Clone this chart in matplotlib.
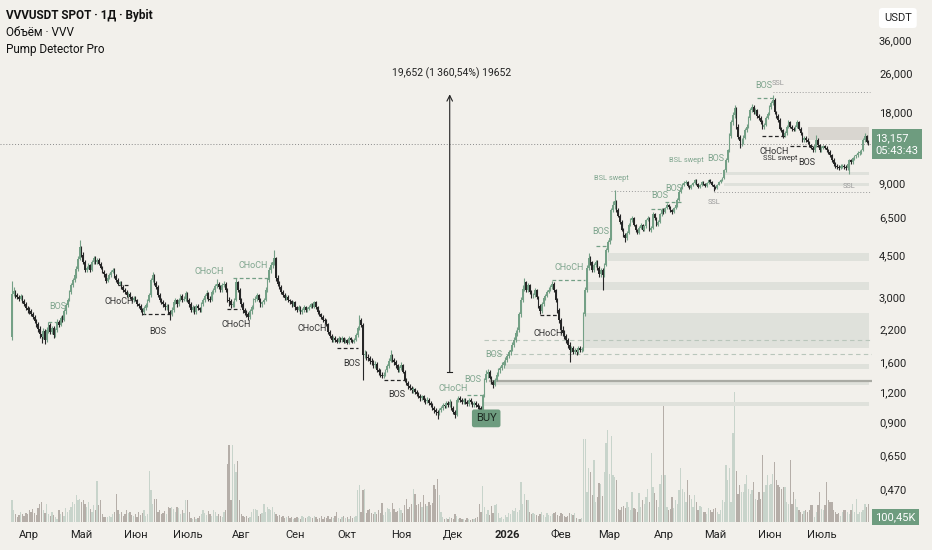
import matplotlib
matplotlib.use("Agg")
import matplotlib.pyplot as plt
import matplotlib.transforms as mtransforms
import numpy as np
import pandas as pd

plt.rcParams['font.family'] = ['Roboto', 'DejaVu Sans']

# daily candles, VVVUSDT, from 2025-03-22
start_date = "2025-03-22"
first_open = 2.05

closes = [
    3.10, 3.18, 3.05, 3.00, 2.95, 3.02, 2.90, 2.82, 2.70, 2.65,
    2.62, 2.55, 2.48, 2.38, 2.32, 2.20, 2.10, 2.04, 2.16, 1.98,
    2.18, 2.30, 2.15, 2.22, 2.08, 2.18, 2.36, 2.30, 2.45, 2.41,
    2.62, 2.78, 2.92, 3.16, 3.38, 3.54, 3.70, 3.95, 4.35, 4.85,
    4.50, 4.20, 3.90, 3.98, 4.08, 3.90, 4.20, 4.38, 4.20, 4.30,
    4.15, 3.98, 3.84, 3.74, 3.50, 3.62, 3.72, 3.84, 3.90, 3.68,
    3.54, 3.42, 3.46, 3.32, 3.22, 3.16, 3.06, 3.08, 3.00, 2.92,
    2.98, 2.92, 2.80, 2.75, 2.65, 2.60, 2.70, 2.78, 2.90, 3.06,
    3.54, 3.70, 3.44, 3.30, 3.06, 2.92, 2.85, 2.80, 2.72, 2.76,
    2.60, 2.55, 2.66, 2.85, 2.92, 2.80, 2.92, 3.04, 2.92, 2.96,
    3.12, 2.92, 2.80, 2.65, 2.72, 2.60, 2.76, 2.70, 2.65, 2.80,
    2.92, 3.02, 3.12, 2.96, 2.92, 3.14, 3.22, 3.34, 3.40, 3.30,
    3.22, 3.38, 3.42, 3.22, 2.92, 2.88, 2.78, 2.80, 2.92, 3.46,
    3.22, 2.92, 2.80, 2.65, 2.58, 2.55, 2.48, 2.62, 2.72, 2.92,
    2.96, 3.06, 2.92, 2.80, 2.85, 2.92, 3.22, 3.54, 3.90, 4.10,
    4.20, 4.38, 3.60, 3.42, 3.30, 3.16, 3.06, 2.98, 3.00, 2.92,
    2.88, 2.80, 2.85, 2.72, 2.65, 2.72, 2.60, 2.65, 2.72, 2.66,
    2.68, 2.74, 2.80, 2.74, 2.85, 2.72, 2.60, 2.55, 2.48, 2.41,
    2.38, 2.31, 2.14, 2.06, 1.98, 2.02, 1.98, 1.95, 2.02, 1.98,
    2.02, 1.95, 1.98, 1.93, 2.02, 1.98, 1.95, 1.98, 2.08, 2.22,
    2.41, 2.30, 1.72, 1.74, 1.68, 1.66, 1.62, 1.60, 1.56, 1.58,
    1.48, 1.46, 1.42, 1.40, 1.42, 1.48, 1.54, 1.62, 1.72, 1.63,
    1.60, 1.56, 1.48, 1.51, 1.56, 1.46, 1.35, 1.31, 1.27, 1.25,
    1.22, 1.23, 1.20, 1.18, 1.16, 1.13, 1.15, 1.11, 1.10, 1.11,
    1.08, 1.06, 1.03, 1.01, 0.99, 0.98, 1.01, 1.03, 1.06, 1.05,
    1.08, 1.06, 1.09, 1.03, 0.99, 0.96, 1.11, 1.13, 1.11, 1.09,
    1.11, 1.09, 1.07, 1.11, 1.09, 1.06, 1.08, 1.06, 1.04, 1.03,
    1.01, 1.16, 1.35, 1.43, 1.46, 1.38, 1.32, 1.29, 1.35, 1.42,
    1.48, 1.51, 1.56, 1.60, 1.63, 1.70, 1.76, 1.80, 1.89, 1.98,
    2.12, 2.18, 2.54, 2.92, 3.26, 3.46, 3.22, 3.38, 3.16, 3.06,
    3.06, 3.22, 3.00, 2.75, 2.62, 2.80, 2.98, 3.04, 3.16, 3.22,
    3.30, 3.42, 3.22, 2.92, 2.65, 2.41, 2.18, 2.12, 2.06, 1.98,
    1.89, 1.80, 1.84, 1.77, 1.80, 1.77, 1.84, 1.80, 1.82, 2.55,
    3.22, 3.98, 4.38, 4.20, 3.90, 4.10, 4.20, 3.98, 3.74, 3.90,
    3.70, 4.10, 4.73, 5.10, 5.30, 6.96, 7.30, 7.60, 6.96, 6.60,
    6.20, 5.74, 5.45, 5.30, 5.60, 6.03, 6.32, 6.42, 6.03, 5.74,
    5.60, 5.88, 6.03, 5.74, 5.95, 6.32, 6.42, 5.74, 5.88, 6.68,
    6.42, 6.03, 6.20, 6.68, 6.96, 6.82, 7.10, 7.30, 7.15, 6.96,
    6.82, 7.10, 7.30, 7.67, 8.30, 8.60, 8.90, 9.05, 9.15, 8.80,
    8.60, 8.90, 9.05, 9.31, 8.95, 8.70, 8.90, 9.15, 8.95, 8.80,
    9.05, 9.31, 9.15, 8.90, 8.70, 8.60, 8.90, 9.15, 9.31, 9.50,
    10.25, 11.3, 12.4, 14.3, 16.3, 17.5, 18.6, 15.6, 14.1, 13.6,
    13.6, 14.0, 15.1, 15.6, 16.9, 18.3, 18.8, 17.9, 18.3, 17.3,
    16.9, 16.3, 15.6, 15.9, 16.9, 17.6, 18.8, 19.5, 20.2, 17.9,
    17.3, 16.6, 15.3, 15.1, 14.3, 14.6, 15.6, 16.3, 15.6, 15.3,
    15.1, 15.6, 16.3, 15.3, 14.6, 13.7, 14.0, 13.7, 13.4, 13.0,
    12.7, 12.4, 13.0, 13.7, 13.0, 12.4, 12.7, 12.9, 12.7, 12.4,
    12.2, 11.8, 11.3, 10.9, 10.7, 10.6, 10.5, 10.7, 10.7, 10.6,
    10.5, 10.9, 11.3, 11.1, 11.5, 11.7, 11.8, 12.1, 12.2, 12.4,
    13.7, 14.3, 13.5, 13.157,
]

highs = [
    3.50, 3.30, 3.22, 3.12, 3.06, 3.10, 3.06, 2.95, 2.86, 2.76,
    2.72, 2.68, 2.60, 2.52, 2.44, 2.36, 2.26, 2.15, 2.22, 2.20,
    2.24, 2.36, 2.34, 2.28, 2.26, 2.22, 2.42, 2.40, 2.50, 2.52,
    2.68, 2.84, 2.98, 3.22, 3.45, 3.62, 3.80, 4.05, 4.45, 5.20,
    4.92, 4.62, 4.28, 4.06, 4.16, 4.14, 4.28, 4.48, 4.46, 4.40,
    4.36, 4.22, 4.04, 3.90, 3.80, 3.68, 3.78, 3.90, 3.98, 3.96,
    3.74, 3.60, 3.52, 3.52, 3.38, 3.28, 3.20, 3.14, 3.14, 3.04,
    3.04, 3.02, 2.96, 2.84, 2.80, 2.70, 2.76, 2.84, 2.96, 3.12,
    3.62, 3.82, 3.74, 3.50, 3.36, 3.12, 2.98, 2.92, 2.86, 2.82,
    2.80, 2.66, 2.72, 2.90, 2.98, 2.96, 2.98, 3.10, 3.08, 3.02,
    3.18, 3.16, 2.98, 2.86, 2.78, 2.76, 2.82, 2.80, 2.74, 2.86,
    2.98, 3.08, 3.20, 3.16, 3.02, 3.20, 3.28, 3.42, 3.58, 3.46,
    3.36, 3.44, 3.50, 3.48, 3.28, 3.00, 2.94, 2.88, 2.98, 3.62,
    3.52, 3.28, 2.98, 2.86, 2.70, 2.64, 2.60, 2.68, 2.78, 2.98,
    3.02, 3.12, 3.10, 2.98, 2.90, 2.98, 3.30, 3.62, 4.00, 4.22,
    4.30, 4.73, 4.44, 3.70, 3.50, 3.36, 3.22, 3.12, 3.06, 3.06,
    2.96, 2.92, 2.90, 2.88, 2.76, 2.78, 2.76, 2.70, 2.78, 2.76,
    2.72, 2.78, 2.84, 2.84, 2.90, 2.88, 2.76, 2.64, 2.58, 2.52,
    2.46, 2.42, 2.34, 2.18, 2.10, 2.06, 2.06, 2.02, 2.06, 2.04,
    2.06, 2.04, 2.02, 2.00, 2.06, 2.05, 2.00, 2.02, 2.12, 2.28,
    2.52, 2.46, 2.34, 1.80, 1.78, 1.74, 1.70, 1.66, 1.64, 1.62,
    1.60, 1.52, 1.50, 1.46, 1.46, 1.50, 1.58, 1.66, 1.80, 1.74,
    1.66, 1.64, 1.58, 1.54, 1.60, 1.58, 1.48, 1.38, 1.34, 1.30,
    1.27, 1.26, 1.25, 1.22, 1.20, 1.18, 1.17, 1.17, 1.13, 1.14,
    1.13, 1.10, 1.08, 1.05, 1.03, 1.01, 1.03, 1.05, 1.08, 1.08,
    1.10, 1.10, 1.12, 1.10, 1.05, 1.01, 1.13, 1.15, 1.15, 1.13,
    1.13, 1.13, 1.11, 1.13, 1.13, 1.10, 1.10, 1.10, 1.08, 1.06,
    1.05, 1.18, 1.38, 1.48, 1.50, 1.48, 1.40, 1.35, 1.38, 1.45,
    1.51, 1.55, 1.60, 1.64, 1.68, 1.74, 1.80, 1.86, 1.94, 2.04,
    2.18, 2.24, 2.60, 3.00, 3.36, 3.62, 3.52, 3.44, 3.42, 3.20,
    3.12, 3.28, 3.26, 3.04, 2.80, 2.86, 3.04, 3.10, 3.22, 3.30,
    3.36, 3.52, 3.46, 3.26, 2.98, 2.70, 2.46, 2.26, 2.18, 2.10,
    2.02, 1.94, 1.88, 1.88, 1.84, 1.84, 1.88, 1.88, 1.86, 2.60,
    3.30, 4.10, 4.60, 4.48, 4.26, 4.18, 4.30, 4.28, 4.04, 3.98,
    3.96, 4.18, 4.82, 5.22, 5.45, 7.10, 7.60, 8.45, 7.70, 7.10,
    6.70, 6.30, 5.84, 5.56, 5.68, 6.12, 6.44, 6.56, 6.50, 6.10,
    5.82, 5.96, 6.12, 6.10, 6.02, 6.40, 6.56, 6.50, 5.96, 6.80,
    6.78, 6.52, 6.30, 6.76, 7.08, 7.10, 7.20, 7.42, 7.40, 7.22,
    7.04, 7.20, 7.40, 7.80, 8.42, 8.76, 9.04, 9.20, 9.30, 9.22,
    8.90, 8.98, 9.14, 9.42, 9.38, 9.04, 8.98, 9.24, 9.22, 9.04,
    9.12, 9.40, 9.42, 9.22, 8.98, 8.78, 8.98, 9.24, 9.40, 9.62,
    10.4, 11.5, 12.6, 14.6, 16.6, 18.0, 19.2, 18.8, 16.0, 14.4,
    14.0, 14.4, 15.4, 16.0, 17.2, 18.6, 19.4, 19.2, 18.7, 18.5,
    17.6, 17.2, 16.6, 16.2, 17.2, 18.0, 19.2, 20.0, 21.2, 20.6,
    18.2, 17.6, 16.9, 15.6, 15.3, 14.9, 15.9, 16.6, 16.5, 15.9,
    15.5, 15.8, 16.6, 16.5, 15.5, 14.8, 14.3, 14.2, 14.0, 13.6,
    13.2, 12.9, 13.2, 14.4, 13.9, 13.2, 12.9, 13.1, 13.1, 12.9,
    12.6, 12.4, 12.0, 11.5, 11.1, 10.9, 10.8, 10.9, 10.9, 10.9,
    10.8, 11.0, 11.4, 11.4, 11.6, 11.9, 12.0, 12.3, 12.4, 12.6,
    13.9, 14.6, 14.4, 13.7,
]

lows = [
    1.98, 3.02, 2.98, 2.94, 2.88, 2.92, 2.84, 2.76, 2.66, 2.58,
    2.56, 2.50, 2.42, 2.33, 2.25, 2.14, 2.02, 1.92, 2.00, 1.90,
    1.94, 2.12, 2.10, 2.10, 2.02, 2.04, 2.14, 2.24, 2.26, 2.36,
    2.38, 2.56, 2.72, 2.88, 3.10, 3.30, 3.46, 3.62, 3.88, 4.28,
    4.42, 4.12, 3.82, 3.84, 3.92, 3.84, 3.86, 4.14, 4.14, 4.14,
    4.08, 3.92, 3.78, 3.66, 3.44, 3.46, 3.56, 3.66, 3.78, 3.62,
    3.48, 3.36, 3.38, 3.26, 3.16, 3.10, 3.00, 3.00, 2.94, 2.86,
    2.86, 2.88, 2.76, 2.70, 2.60, 2.52, 2.56, 2.66, 2.74, 2.86,
    3.00, 3.46, 3.38, 3.24, 3.00, 2.86, 2.80, 2.74, 2.66, 2.66,
    2.54, 2.40, 2.50, 2.60, 2.80, 2.74, 2.76, 2.88, 2.86, 2.88,
    2.90, 2.86, 2.74, 2.60, 2.60, 2.54, 2.56, 2.64, 2.60, 2.60,
    2.76, 2.86, 2.96, 2.90, 2.86, 2.88, 3.08, 3.16, 3.28, 3.24,
    3.16, 3.16, 3.32, 3.16, 2.86, 2.76, 2.70, 2.72, 2.74, 2.88,
    3.16, 2.86, 2.74, 2.58, 2.52, 2.48, 2.40, 2.44, 2.56, 2.68,
    2.86, 2.90, 2.86, 2.74, 2.72, 2.80, 2.88, 3.16, 3.48, 3.80,
    3.98, 4.10, 3.52, 3.34, 3.24, 3.10, 3.00, 2.92, 2.92, 2.86,
    2.82, 2.74, 2.76, 2.66, 2.60, 2.62, 2.56, 2.56, 2.60, 2.60,
    2.60, 2.64, 2.70, 2.70, 2.70, 2.68, 2.56, 2.50, 2.44, 2.36,
    2.32, 2.26, 2.10, 2.02, 1.94, 1.94, 1.94, 1.92, 1.92, 1.94,
    1.94, 1.92, 1.92, 1.90, 1.91, 1.95, 1.92, 1.93, 1.96, 2.04,
    2.18, 2.24, 1.35, 1.66, 1.64, 1.62, 1.58, 1.56, 1.52, 1.52,
    1.46, 1.42, 1.39, 1.37, 1.38, 1.40, 1.46, 1.52, 1.60, 1.60,
    1.56, 1.52, 1.45, 1.46, 1.48, 1.44, 1.32, 1.28, 1.24, 1.22,
    1.19, 1.19, 1.18, 1.15, 1.13, 1.10, 1.11, 1.09, 1.07, 1.08,
    1.06, 1.04, 1.01, 0.98, 0.96, 0.92, 0.96, 0.99, 1.01, 1.03,
    1.03, 1.04, 1.04, 1.01, 0.97, 0.93, 0.95, 1.09, 1.09, 1.07,
    1.07, 1.07, 1.05, 1.05, 1.07, 1.04, 1.04, 1.04, 1.02, 1.00,
    0.98, 1.00, 1.14, 1.32, 1.38, 1.36, 1.30, 1.25, 1.27, 1.33,
    1.40, 1.44, 1.48, 1.52, 1.56, 1.60, 1.66, 1.72, 1.78, 1.86,
    1.94, 2.06, 2.14, 2.48, 2.86, 3.18, 3.14, 3.16, 3.10, 2.98,
    2.98, 3.00, 2.94, 2.70, 2.55, 2.58, 2.76, 2.92, 3.00, 3.12,
    3.18, 3.26, 3.16, 2.86, 2.58, 2.34, 2.10, 2.06, 2.00, 1.92,
    1.84, 1.60, 1.76, 1.73, 1.74, 1.72, 1.74, 1.76, 1.76, 1.78,
    2.50, 3.16, 3.90, 4.10, 3.84, 3.84, 4.02, 3.90, 3.66, 3.64,
    3.22, 3.64, 4.04, 4.66, 5.00, 5.20, 6.80, 7.00, 6.80, 6.50,
    6.10, 5.66, 5.36, 5.12, 5.22, 5.52, 5.94, 6.20, 5.94, 5.62,
    5.50, 5.52, 5.80, 5.66, 5.66, 5.88, 6.24, 5.66, 5.62, 5.80,
    6.32, 5.94, 5.96, 6.12, 6.60, 6.72, 6.74, 7.00, 7.06, 6.86,
    6.72, 6.74, 7.00, 7.20, 7.58, 8.20, 8.52, 8.80, 8.96, 8.70,
    8.50, 8.52, 8.82, 8.96, 8.86, 8.60, 8.62, 8.82, 8.88, 8.70,
    8.72, 8.96, 9.06, 8.82, 8.40, 8.50, 8.54, 8.84, 9.06, 9.22,
    9.40, 10.1, 11.1, 12.2, 14.0, 15.8, 17.0, 15.3, 13.8, 12.7,
    12.9, 13.2, 13.8, 14.8, 15.4, 16.6, 18.0, 17.6, 17.6, 17.0,
    16.6, 16.0, 15.2, 15.3, 15.7, 16.7, 17.4, 18.5, 19.2, 17.6,
    17.0, 16.3, 15.1, 14.8, 14.0, 14.1, 14.4, 15.4, 15.4, 15.0,
    14.9, 14.9, 15.4, 15.1, 14.4, 13.5, 13.5, 13.5, 13.2, 12.8,
    12.5, 12.2, 12.2, 12.8, 12.8, 12.2, 12.2, 12.5, 12.5, 12.2,
    12.0, 11.6, 11.1, 10.7, 10.5, 10.4, 10.3, 10.4, 10.5, 10.4,
    10.3, 10.3, 9.90, 10.9, 10.9, 11.3, 11.5, 11.6, 11.9, 12.0,
    12.3, 13.5, 13.3, 13.0,
]

# volume, thousands of VVV
volumes = [
    120, 66, 44, 28, 38, 55, 44, 33, 50, 44,
    66, 55, 72, 50, 38, 77, 99, 110, 66, 50,
    99, 44, 33, 55, 38, 28, 17, 66, 44, 55,
    33, 77, 55, 66, 83, 110, 99, 150, 120, 125,
    110, 120, 99, 83, 110, 72, 55, 94, 66, 225,
    94, 120, 44, 28, 28, 28, 33, 28, 44, 55,
    155, 66, 44, 55, 33, 44, 66, 50, 55, 38,
    33, 44, 28, 55, 38, 50, 66, 33, 44, 285,
    175, 99, 125, 125, 55, 66, 44, 50, 60, 44,
    83, 77, 83, 72, 55, 83, 77, 44, 66, 50,
    120, 120, 55, 22, 17, 28, 17, 22, 33, 44,
    66, 50, 38, 60, 44, 33, 66, 55, 33, 44,
    33, 28, 55, 66, 320, 425, 120, 425, 320, 275,
    340, 120, 44, 33, 28, 33, 22, 28, 55, 72,
    72, 66, 33, 44, 50, 99, 55, 83, 72, 66,
    83, 55, 44, 33, 38, 28, 33, 22, 28, 33,
    22, 28, 17, 22, 28, 22, 17, 33, 28, 22,
    28, 33, 28, 22, 33, 28, 17, 22, 33, 17,
    28, 22, 33, 17, 28, 22, 33, 55, 22, 17,
    28, 33, 22, 28, 17, 33, 22, 28, 33, 175,
    205, 55, 175, 180, 50, 66, 72, 50, 44, 55,
    44, 66, 50, 105, 38, 55, 77, 72, 55, 105,
    72, 55, 60, 77, 66, 50, 94, 125, 72, 83,
    99, 180, 155, 94, 99, 110, 83, 150, 99, 88,
    110, 94, 105, 205, 180, 240, 150, 55, 28, 17,
    22, 17, 28, 22, 17, 44, 33, 17, 22, 17,
    17, 11, 22, 17, 11, 17, 17, 22, 28, 99,
    55, 200, 83, 44, 66, 38, 88, 50, 94, 99,
    50, 22, 28, 17, 38, 28, 50, 44, 66, 60,
    77, 55, 66, 220, 99, 155, 120, 120, 55, 44,
    50, 44, 38, 33, 44, 55, 38, 28, 50, 38,
    33, 44, 50, 55, 38, 33, 50, 44, 33, 28,
    33, 50, 44, 38, 50, 22, 17, 17, 22, 460,
    460, 165, 300, 275, 150, 345, 110, 140, 215, 210,
    145, 275, 435, 510, 265, 475, 260, 250, 235, 72,
    66, 83, 88, 77, 110, 83, 66, 165, 77, 72,
    55, 160, 83, 120, 99, 140, 180, 110, 380, 195,
    160, 120, 83, 210, 260, 665, 260, 83, 66, 72,
    140, 77, 120, 99, 175, 300, 180, 165, 110, 230,
    150, 125, 83, 150, 110, 66, 88, 83, 55, 55,
    44, 77, 66, 55, 72, 77, 55, 44, 66, 120,
    110, 315, 235, 300, 110, 495, 720, 285, 155, 205,
    165, 165, 210, 260, 180, 155, 175, 220, 125, 120,
    165, 125, 370, 165, 205, 260, 205, 210, 265, 330,
    235, 205, 195, 180, 195, 195, 110, 99, 345, 99,
    165, 125, 83, 66, 55, 44, 60, 66, 55, 66,
    94, 94, 28, 55, 94, 165, 72, 66, 94, 220,
    120, 110, 110, 66, 55, 44, 50, 33, 55, 66,
    66, 55, 44, 66, 99, 55, 125, 44, 55, 55,
    66, 99, 83, 100.45,
]

month_labels = ['Апр', 'Май', 'Июн', 'Июль', 'Авг', 'Сен', 'Окт', 'Ноя', 'Дек',
                '2026', 'Фев', 'Мар', 'Апр', 'Май', 'Июн', 'Июль']
price_ticks = [36, 26, 18, 9, 6.5, 4.5, 3, 2.2, 1.6, 1.2, 0.9, 0.65, 0.47]
last_price = 13.157
last_volume = 100.45

# colours
bg = '#f2f0eb'
up_col = '#74a086'
down_col = '#262626'
vol_up = '#c8d4cb'
vol_down = '#b5aea8'
zone_col = '#dfe1db'
green_txt = '#7fa58e'
dark_txt = '#333333'
gray_txt = '#9a9a9a'
badge = '#6e9c7f'

n = len(closes)
idx = np.arange(n)
c = np.array(closes)
o = np.concatenate([[first_open], c[:-1]])
h = np.maximum(np.array(highs), np.maximum(o, c))
l = np.minimum(np.array(lows), np.minimum(o, c))
is_up = c >= o

fig = plt.figure(figsize=(9.32, 5.5), dpi=100)
fig.patch.set_facecolor(bg)
rect = [0, 28 / 550, 872 / 932, 522 / 550]
vax = fig.add_axes(rect)
ax = fig.add_axes(rect, sharex=vax)
ax.patch.set_visible(False)
vax.set_facecolor(bg)

# volume pane
vax.bar(idx, volumes, width=0.75, color=np.where(is_up, vol_up, vol_down), linewidth=0)
vax.set_ylim(0, 2891)
vax.set_yticks([])
vax.tick_params(bottom=False, labelbottom=False, left=False, labelleft=False)

# price pane
ax.set_yscale('log')
ax.set_xlim(-6.9, 495.1)
ax.set_ylim(0.3417, 52.98)

# liquidity zones
zones = [(343, 4.60, 4.27), (331, 3.46, 3.22), (329, 2.58, 1.83),
         (283, 1.58, 1.50), (275, 1.32, 1.28), (272, 1.09, 1.05),
         (410, 10.05, 9.77), (410, 9.04, 8.78)]
for x0, hi, lo in zones:
    ax.fill_between([x0, 493.4], lo, hi, color=zone_col, lw=0, zorder=1)
ax.fill_between([458, 493.4], 13.7, 15.5, color='#d9d6d0', lw=0, zorder=1)

ax.plot([275, 497], [1.34, 1.34], color='#a9aaa3', lw=1.6, zorder=2)
ax.plot([272, 497], [1.99, 1.99], color='#b9c6bb', lw=0.8, ls=(0, (4, 3)), zorder=2)
ax.plot([275, 497], [1.73, 1.73], color='#b9c6bb', lw=0.8, ls=(0, (4, 3)), zorder=2)
ax.axhline(last_price, color='#8a8a8a', lw=0.7, ls=(0, (1, 2)), zorder=2)

dot = (0, (1, 2))
for x0, x1, p in [(438, 494, 21.8), (404, 494, 8.29), (345, 372, 8.40), (389, 409, 10.0)]:
    ax.plot([x0, x1], [p, p], color='#9a9a9a', lw=0.7, ls=dot, zorder=2)

# structure breaks (dashed)
dash = (0, (3, 2))
struct_lines = [
    (21, 29, 2.37, up_col), (61, 67, 3.38, down_col), (75, 92, 2.56, down_col),
    (127, 148, 3.60, up_col), (124, 131, 2.68, down_col), (187, 199, 1.84, down_col),
    (214, 226, 1.35, down_col), (262, 271, 1.17, up_col), (311, 330, 3.54, up_col),
    (304, 314, 2.52, down_col), (336, 343, 4.94, up_col), (368, 374, 7.0, up_col),
    (376, 385, 7.5, up_col), (429, 438, 20.6, up_col), (432, 445, 14.3, down_col),
    (448, 464, 12.9, down_col),
]
for x0, x1, p, col in struct_lines:
    ax.plot([x0, x1], [p, p], color=col, lw=0.9, ls=dash, zorder=2)

# candles
cols = np.where(is_up, up_col, down_col)
ax.vlines(idx, l, h, colors=cols, linewidth=0.8, zorder=3)
body_lo = np.minimum(o, c)
body_hi = np.maximum(o, c)
ax.bar(idx, body_hi - body_lo, bottom=body_lo, width=0.9, color=cols, linewidth=0, zorder=3)

# structure labels
labels = [
    (26.5, 2.73, 'BOS', green_txt), (62, 2.88, 'CHoCH', dark_txt), (84, 2.16, 'BOS', dark_txt),
    (113.4, 3.86, 'CHoCH', green_txt), (138.7, 4.07, 'CHoCH', green_txt),
    (129, 2.30, 'CHoCH', dark_txt), (172.7, 2.21, 'CHoCH', dark_txt), (195.7, 1.58, 'BOS', dark_txt),
    (221.6, 1.17, 'BOS', dark_txt), (254, 1.24, 'CHoCH', green_txt), (265, 1.35, 'BOS', green_txt),
    (277.5, 1.72, 'BOS', green_txt), (308.6, 2.12, 'CHoCH', dark_txt), (321, 4.0, 'CHoCH', green_txt),
    (339, 5.67, 'BOS', green_txt), (373, 8.0, 'BOS', green_txt), (381, 8.6, 'BOS', green_txt),
    (405, 11.5, 'BOS', green_txt), (432.5, 23.2, 'BOS', green_txt), (439, 12.3, 'CHoCH', dark_txt),
    (457.5, 11.0, 'BOS', dark_txt),
]
for x, p, s, col in labels:
    ax.text(x, p, s, ha='center', va='center', fontsize=6.5, color=col, zorder=4)
small = [
    (345, 9.4, 'BSL swept', green_txt), (388, 11.2, 'BSL swept', green_txt),
    (404, 7.5, 'SSL', gray_txt), (441, 23.6, 'SSL', gray_txt),
    (442, 11.5, 'SSL swept', dark_txt), (482, 8.7, 'SSL', gray_txt),
]
for x, p, s, col in small:
    ax.text(x, p, s, ha='center', va='center', fontsize=5.3, color=col, zorder=4)

# measure arrow
ax.annotate('', xy=(252, 21.3), xytext=(252, 1.45),
            arrowprops=dict(arrowstyle='->', color='#222222', lw=0.8, shrinkA=0, shrinkB=0))
ax.plot([250.5, 253.5], [1.45, 1.45], color='#222222', lw=0.8)
ax.text(253, 26.0, '19,652 (1\u2009360,54%) 19652', ha='center', va='center',
        fontsize=7.5, color='#222222')

ax.text(273, 0.93, 'BUY', ha='center', va='center', fontsize=8, color='#1d2a22', zorder=5,
        bbox=dict(boxstyle='round,pad=0.35,rounding_size=0.2', fc=badge, ec='none'))

# axes
for a in (ax, vax):
    for s in a.spines.values():
        s.set_visible(False)
ax.yaxis.tick_right()
ax.set_yticks(price_ticks)
ax.set_yticklabels([f'{v:.3f}'.replace('.', ',') for v in price_ticks])
ax.minorticks_off()
ax.tick_params(axis='y', length=0, pad=5, labelsize=8, labelcolor='#222222')

start = pd.Timestamp(start_date)
months = pd.date_range('2025-04-01', '2026-07-01', freq='MS')
ax.set_xticks((months - start).days)
ax.set_xticklabels(month_labels)
ax.tick_params(axis='x', length=0, pad=6, labelsize=8, labelcolor='#222222')
for t in ax.get_xticklabels():
    if t.get_text() == '2026':
        t.set_fontweight('bold')

# price / volume badges
trans = mtransforms.blended_transform_factory(ax.transAxes, ax.transData)
ax.text(1.004, last_price, '13,157\n05:43:43', transform=trans, ha='left', va='center',
        color='white', fontsize=8, linespacing=1.35, clip_on=False, zorder=6,
        bbox=dict(boxstyle='square,pad=0.3', fc=badge, ec='none'))
vtrans = mtransforms.blended_transform_factory(vax.transAxes, vax.transData)
vax.text(1.004, 0, '100,45K', transform=vtrans, ha='left', va='bottom',
         color='white', fontsize=8, clip_on=False, zorder=6,
         bbox=dict(boxstyle='square,pad=0.3', fc=badge, ec='none'))

fig.text(884 / 932, 1 - 18 / 550, 'USDT', ha='left', va='center', fontsize=8, color='#222222',
         bbox=dict(boxstyle='round,pad=0.45,rounding_size=0.3', fc='white', ec='none'))

fig.text(6 / 932, 1 - 16 / 550, 'VVVUSDT SPOT · 1Д · Bybit', ha='left', va='center',
         fontsize=8.5, fontweight='bold', color='#111111')
fig.text(6 / 932, 1 - 33 / 550, 'Объём · VVV', ha='left', va='center', fontsize=8.5, color='#111111')
fig.text(6 / 932, 1 - 50 / 550, 'Pump Detector Pro', ha='left', va='center', fontsize=8.5, color='#111111')

fig.savefig('out.png', dpi=100, facecolor=bg)
